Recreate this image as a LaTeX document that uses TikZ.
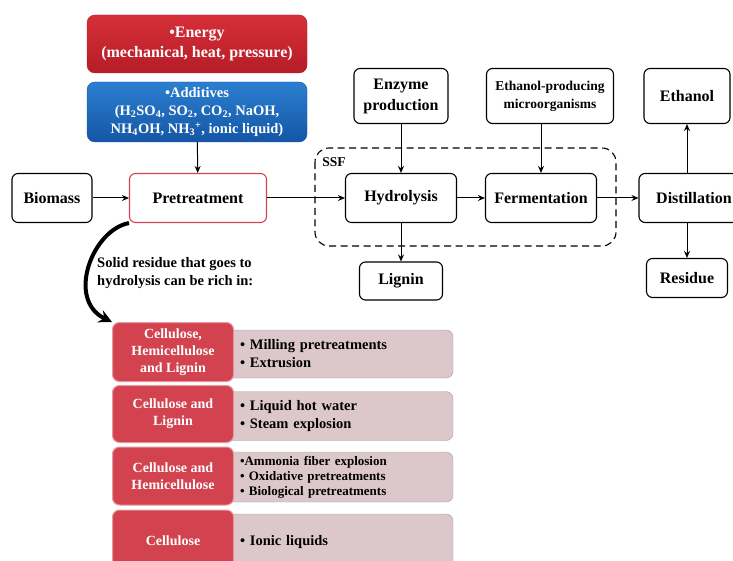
\documentclass[tikz,border=0pt]{standalone}
\usepackage{fontspec}
\setmainfont{Liberation Serif}
\usetikzlibrary{arrows.meta}
\definecolor{energyred}{HTML}{D62F38}
\definecolor{energydark}{HTML}{B51D27}
\definecolor{addblue}{HTML}{2B7FD0}
\definecolor{adddark}{HTML}{1556A6}
\definecolor{cellred}{HTML}{D2434F}
\definecolor{notepink}{HTML}{DCC7CB}
\newcommand{\bsize}[1]{\bfseries\fontsize{#1}{#1}\selectfont}

\begin{document}
\begin{tikzpicture}[x=1pt,y=-1pt,
  box/.style={draw, line width=1.1pt, rounded corners=6pt, fill=white, align=center,
    inner sep=0pt, font=\bfseries\fontsize{16}{21}\selectfont},
  topbox/.style={rounded corners=8pt, align=center, text=white, inner sep=0pt,
    minimum width=220pt, font=\bfseries\fontsize{16}{20}\selectfont},
  flow/.style={-{Stealth[length=7pt,width=6pt]}, line width=1pt},
  cell/.style={draw=cellred!55!white, line width=1pt, fill=cellred, rounded corners=7pt,
    text=white, align=center, minimum width=121pt, inner sep=0pt,
    font=\bfseries\fontsize{14}{17}\selectfont},
  note/.style={draw=gray!75, fill=notepink, rounded corners=7pt, align=left,
    text width=198pt, inner xsep=15pt, inner ysep=0pt,
    font=\bfseries\fontsize{14.5}{18}\selectfont}]

  \useasboundingbox (0,0) rectangle (733,561);

  % inputs of the pretreatment
  \node[topbox, minimum height=58pt, draw=energydark, top color=energyred, bottom color=energydark]
    (energy) at (197,44) {\textbullet Energy\\(mechanical, heat, pressure)};
  \node[topbox, minimum height=60pt, draw=adddark, top color=addblue, bottom color=adddark,
    font=\bfseries\fontsize{14.5}{18}\selectfont]
    (additives) at (197,112) {\textbullet Additives\\(H\textsubscript{2}SO\textsubscript{4}, SO\textsubscript{2}, CO\textsubscript{2}, NaOH,\\NH\textsubscript{4}OH, NH\textsubscript{3}\textsuperscript{+}, ionic liquid)};

  % main line
  \node[box, minimum width=80pt, minimum height=49pt] (biomass) at (52,198) {Biomass};
  \node[box, draw=cellred, minimum width=137pt, minimum height=49pt] (pre) at (198,198) {Pretreatment};
  \node[box, minimum width=111pt, minimum height=49pt] (hyd) at (401,198) {Hydrolysis};
  \node[box, minimum width=111pt, minimum height=49pt] (ferm) at (541,198) {Fermentation};
  \node[box, minimum width=110pt, minimum height=49pt] (dist) at (694,198) {Distillation};

  \node[box, minimum width=94pt, minimum height=55pt] (enzyme) at (401,96) {Enzyme\\production};
  \node[box, minimum width=127pt, minimum height=55pt, font=\bfseries\fontsize{13.5}{18}\selectfont]
    (micro) at (550,96) {Ethanol-producing\\microorganisms};
  \node[box, minimum width=86pt, minimum height=55pt] (ethanol) at (687,96) {Ethanol};
  \node[box, minimum width=83pt, minimum height=38pt] (lignin) at (401,281) {Lignin};
  \node[box, minimum width=81pt, minimum height=39pt] (residue) at (687,278) {Residue};

  \draw[dash pattern=on 7pt off 4.5pt, line width=1.1pt, rounded corners=14pt] (315,148) rectangle (616,246);
  \node[font=\bsize{13.5}] (ssf) at (334,162) {SSF};

  \draw[flow] (additives) -- (pre);
  \draw[flow] (biomass) -- (pre);
  \draw[flow] (pre) -- (hyd);
  \draw[flow] (hyd) -- (ferm);
  \draw[flow] (ferm) -- (dist);
  \draw[flow] (enzyme) -- (hyd);
  \draw[flow] (micro.south -| ferm) -- (ferm);
  \draw[flow] (hyd) -- (lignin);
  \draw[flow] (dist.north -| ethanol) -- (ethanol);
  \draw[flow] (dist.south -| residue) -- (residue);

  % what the solid residue is rich in
  \node[anchor=north west, align=left, inner sep=0pt, font=\bfseries\fontsize{14.5}{18}\selectfont]
    (solid) at (97,257) {Solid residue that goes to\\hydrolysis can be rich in:};

  \node[note, minimum height=48pt] (note1) at (339,354) {\textbullet\ Milling pretreatments\\\textbullet\ Extrusion};
  \node[note, minimum height=49pt] (note2) at (339,416) {\textbullet\ Liquid hot water\\\textbullet\ Steam explosion};
  \node[note, minimum height=50pt, font=\bfseries\fontsize{13}{15}\selectfont]
    (note3) at (339,477) {\textbullet Ammonia fiber explosion\\\textbullet\ Oxidative pretreatments\\\textbullet\ Biological pretreatments};
  \node[note, minimum height=56pt] (note4) at (339,542) {\textbullet\ Ionic liquids};

  \node[cell, minimum height=59pt] (cel1) at (173,352) {Cellulose,\\Hemicellulose\\and Lignin};
  \node[cell, minimum height=57pt] (cel2) at (173,414) {Cellulose and\\Lignin};
  \node[cell, minimum height=58pt] (cel3) at (173,476) {Cellulose and\\Hemicellulose};
  \node[cell, minimum height=62pt] (cel4) at (173,541) {Cellulose};

  \draw[line width=4pt, -{Stealth[length=13pt,width=13pt]}]
    (pre.south west) .. controls (92,230) and (66,300) .. (cel1.north west);

\end{tikzpicture}
\end{document}
